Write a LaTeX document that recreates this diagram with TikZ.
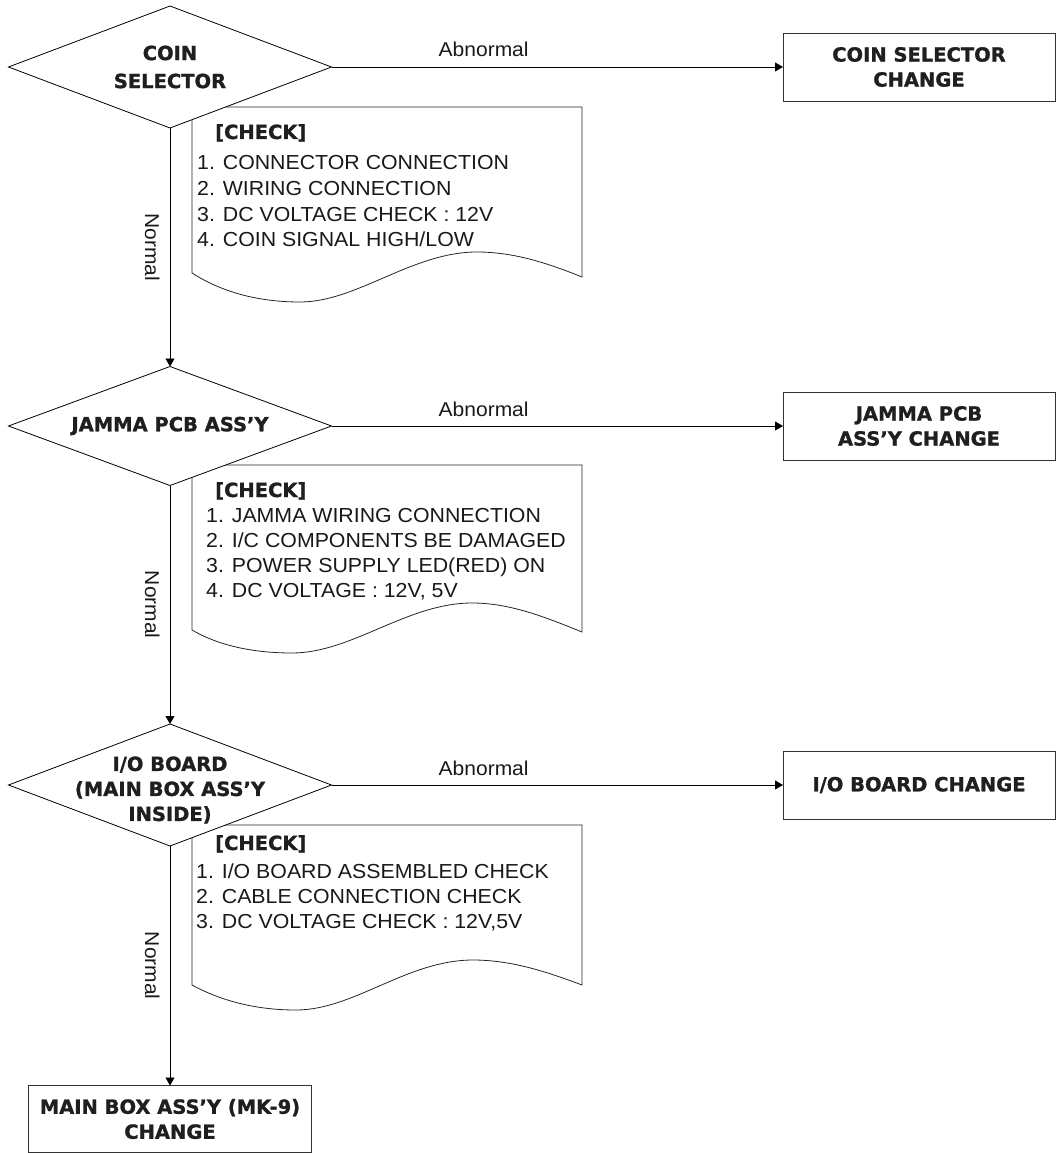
\documentclass[tikz,border=0pt]{standalone}
\usepackage{fontspec}
\setmainfont{Liberation Sans}[FakeStretch=1.05]
\newfontfamily\heavyfont{DejaVu Sans}[BoldFeatures={FakeBold=1.2}]
\usetikzlibrary{shapes.geometric,arrows.meta}
\begin{document}
\begin{tikzpicture}[x=1pt,y=-1pt,
  dia/.style={diamond, draw=black, line width=0.8pt, fill=white, inner sep=0pt, outer sep=0pt, minimum width=323pt, minimum height=122pt},
  dtext/.style={align=center, inner sep=0pt, font=\heavyfont\bfseries\fontsize{19.5}{25}\selectfont, text=black!88},
  chbox/.style={rectangle, draw=black!80, line width=0.9pt, fill=white, inner sep=0pt, outer sep=0pt, minimum height=68pt, align=center, font=\heavyfont\bfseries\fontsize{19.5}{25}\selectfont, text=black!88},
  doc/.style={draw=black!85, line width=0.8pt, fill=white},
  chkhead/.style={anchor=base west, inner sep=0pt, font=\heavyfont\bfseries\fontsize{19.5}{25}\selectfont, text=black!88},
  chkline/.style={anchor=base west, inner sep=0pt, font=\fontsize{20.3}{25}\selectfont, text=black!90},
  flow/.style={line width=0.8pt, -{Triangle[length=8pt,width=9pt]}},
  ablbl/.style={pos=0.337, anchor=base, yshift=10pt, inner sep=0pt, font=\fontsize{20}{24}\selectfont, text=black!90},
  nolbl/.style={midway, xshift=-25pt, rotate=-90, anchor=base, inner sep=0pt, font=\fontsize{20}{24}\selectfont, text=black!90}
]
\useasboundingbox (0,0) rectangle (1057,1153);

% ---- check documents (drawn first; diamonds overlap them)
\begin{scope}[shift={(192,107)}]
  \path[doc] (0,0) -- (390,0) -- (390,170) .. controls (353,155) and (320,145) .. (285,145)
    .. controls (220,145) and (165,195) .. (108,195) .. controls (60,195) and (25,182) .. (0,166) -- cycle;
\end{scope}
\begin{scope}[shift={(192,465)}]
  \path[doc] (0,0) -- (390,0) -- (390,167) .. controls (353,152) and (318,138) .. (280,138)
    .. controls (215,138) and (160,188) .. (100,188) .. controls (55,188) and (22,178) .. (0,165) -- cycle;
\end{scope}
\begin{scope}[shift={(192,825)}]
  \path[doc] (0,0) -- (390,0) -- (390,160) .. controls (353,146) and (318,135) .. (281,135)
    .. controls (215,135) and (162,185) .. (104,185) .. controls (58,185) and (24,173) .. (0,160) -- cycle;
\end{scope}

% ---- check texts
\node[chkhead] (k1h) at (215,139) {[CHECK]};
\node[chkline] (k1a) at (197,169) {1. CONNECTOR CONNECTION};
\node[chkline] (k1b) at (197,195) {2. WIRING CONNECTION};
\node[chkline] (k1c) at (197,221) {3. DC VOLTAGE CHECK : 12V};
\node[chkline] (k1d) at (197,246) {4. COIN SIGNAL HIGH/LOW};

\node[chkhead] (k2h) at (215,497) {[CHECK]};
\node[chkline] (k2a) at (206,522) {1. JAMMA WIRING CONNECTION};
\node[chkline] (k2b) at (206,547) {2. I/C COMPONENTS BE DAMAGED};
\node[chkline] (k2c) at (206,572) {3. POWER SUPPLY LED(RED) ON};
\node[chkline] (k2d) at (206,597) {4. DC VOLTAGE : 12V, 5V};

\node[chkhead] (k3h) at (215,850) {[CHECK]};
\node[chkline] (k3a) at (196,878) {1. I/O BOARD ASSEMBLED CHECK};
\node[chkline] (k3b) at (196,903) {2. CABLE CONNECTION CHECK};
\node[chkline] (k3c) at (196,928) {3. DC VOLTAGE CHECK : 12V,5V};

% ---- decisions
\node[dia] (d1) at (170,67) {};
\node[dtext, font=\heavyfont\bfseries\fontsize{19.5}{28}\selectfont] (t1) at (d1.center) {COIN\\SELECTOR};
\node[dia, minimum height=119pt] (d2) at (170,426) {};
\node[dtext] (t2) at (d2.center) {JAMMA PCB ASS’Y};
\node[dia] (d3) at (170,785) {};
\node[dtext] (t3) at ([yshift=-5pt]d3.center) {I/O BOARD\\(MAIN BOX ASS’Y\\INSIDE)};

% ---- result boxes
\node[chbox, minimum width=272pt] (b1) at (919,67) {COIN SELECTOR\\CHANGE};
\node[chbox, minimum width=272pt] (b2) at (919,426) {JAMMA PCB\\ASS’Y CHANGE};
\node[chbox, minimum width=272pt] (b3) at (919,785) {I/O BOARD CHANGE};
\node[chbox, minimum width=283pt, minimum height=67pt] (b4) at (170,1119) {MAIN BOX ASS’Y (MK-9)\\CHANGE};

% ---- connectors
\draw[flow] (d1.east) -- node[ablbl] (a1) {Abnormal} (b1.west);
\draw[flow] (d2.east) -- node[ablbl] (a2) {Abnormal} (b2.west);
\draw[flow] (d3.east) -- node[ablbl] (a3) {Abnormal} (b3.west);
\draw[flow] (d1.south) -- node[nolbl] (n1) {Normal} (d2.north);
\draw[flow] (d2.south) -- node[nolbl] (n2) {Normal} (d3.north);
\draw[flow] (d3.south) -- node[nolbl] (n3) {Normal} (b4.north);
\end{tikzpicture}
\end{document}
